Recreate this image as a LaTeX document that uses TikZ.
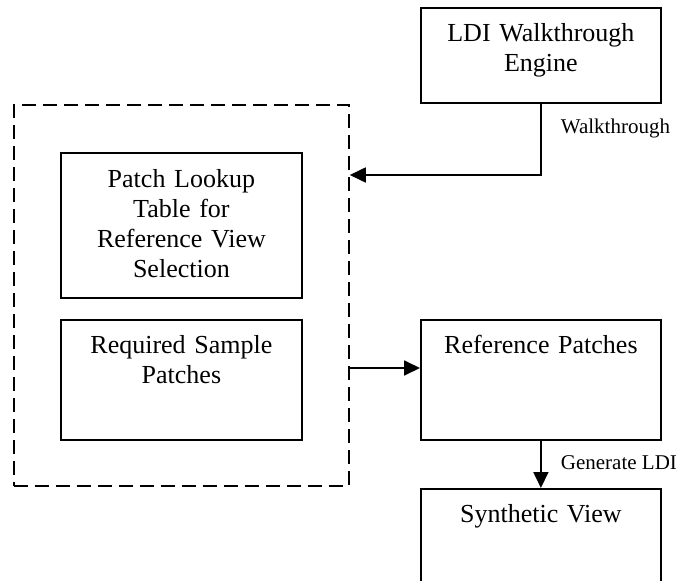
\documentclass[tikz,border=0pt]{standalone}
\usepackage{fontspec}
\setmainfont{Liberation Serif}
\usetikzlibrary{arrows.meta,positioning,calc}
\begin{document}
\begin{tikzpicture}[x=1pt,y=-1pt,
  line width=1.8pt,
  box/.style={draw, rectangle, inner sep=0pt, anchor=north west},
  grp/.style={draw, rectangle, inner sep=0pt, anchor=north west, dash pattern=on 14pt off 7pt},
  boxtext/.style={anchor=base, text width=240pt, align=center, inner sep=0pt,
    font=\fontsize{26}{30}\selectfont},
  lbl/.style={anchor=base west, inner sep=0pt, font=\fontsize{21}{25}\selectfont},
  arr/.style={-{Triangle[length=16pt,width=15pt]}, line width=1.8pt}]
\useasboundingbox (0,0) rectangle (681,581);

% boxes
\node[box, minimum width=240pt, minimum height=95pt] (ldi) at (420,7) {};
\node[grp, minimum width=335pt, minimum height=381pt] (group) at (13,104) {};
\node[box, minimum width=241pt, minimum height=145pt] (lookup) at (60,152) {};
\node[box, minimum width=241pt, minimum height=120pt] (sample) at (60,319) {};
\node[box, minimum width=240pt, minimum height=120pt] (refp) at (420,319) {};
\node[box, minimum width=240pt, minimum height=110pt] (synth) at (420,488) {};

% box texts, first baseline 34pt below each top edge
\node[boxtext] (ldit) at ($(ldi.north)+(0,34)$) {LDI Walkthrough\\Engine};
\node[boxtext] (lookupt) at ($(lookup.north)+(0,35)$) {Patch Lookup\\Table for\\Reference View\\Selection};
\node[boxtext] (samplet) at ($(sample.north)+(0,34)$) {Required Sample\\Patches};
\node[boxtext] (refpt) at ($(refp.north)+(0,34)$) {Reference Patches};
\node[boxtext] (syntht) at ($(synth.north)+(0,34)$) {Synthetic View};

% connectors
\coordinate (bend) at (ldi.south |- 0,175);
\draw[arr] (ldi.south) -- (bend) -- (group.east |- bend);
\coordinate (mid) at (group.east |- 0,368);
\draw[arr] (mid) -- (refp.west |- mid);
\draw[arr] (refp.south) -- (synth.north);

% connector labels
\node[lbl] (walk) at (560,133) {Walkthrough};
\node[lbl] (gen) at (560,469) {Generate LDI};
\end{tikzpicture}
\end{document}
